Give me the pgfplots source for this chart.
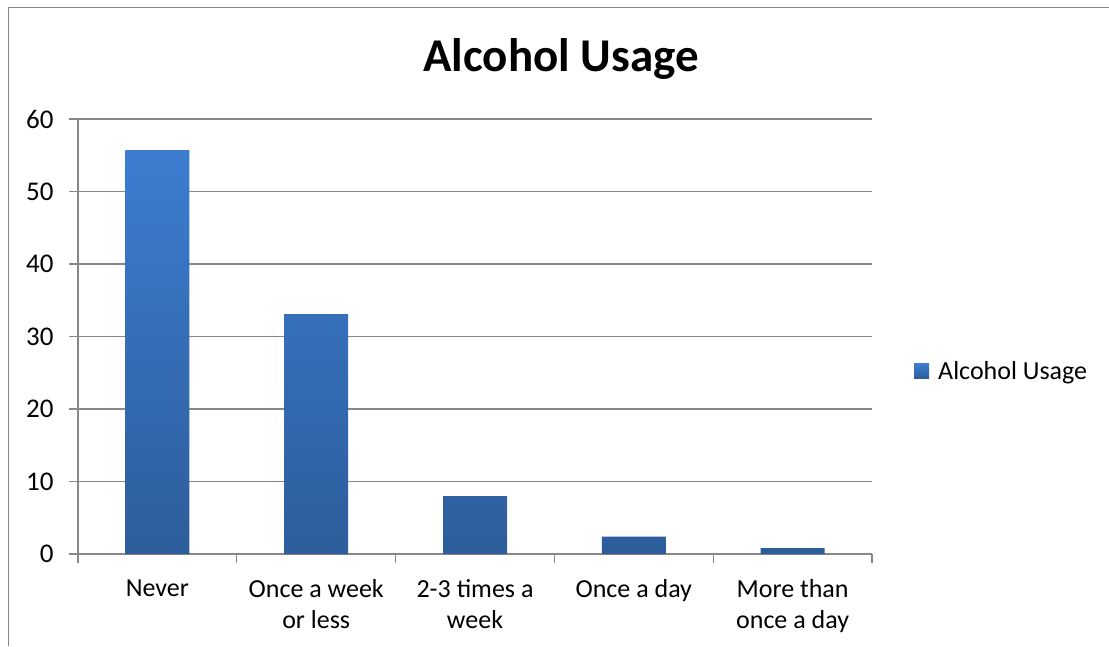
\documentclass[border=0pt]{standalone}
\usepackage{pgfplots}
\pgfplotsset{compat=1.18}
\usepackage{fontspec}
\setmainfont{Carlito}
\definecolor{bartop}{RGB}{60,125,208}
\definecolor{barbot}{RGB}{45,93,155}
\definecolor{gridgray}{RGB}{136,136,136}
\begin{document}
\begin{tikzpicture}[x=1pt,y=1pt]
\path[use as bounding box] (0,0) rectangle (1109,646);
\draw[gridgray, line width=1pt] (8,0) -- (8,638.5) -- (1109,638.5);
\node[font=\fontsize{47}{56}\selectfont\bfseries, anchor=base] at (561,574) {Alcohol Usage};
\begin{axis}[
  at={(78pt,92pt)}, anchor=south west,
  scale only axis, width=794pt, height=435pt,
  xmin=-0.5, xmax=4.5, ymin=0, ymax=60,
  axis lines*=left,
  axis line style={gridgray, line width=1.2pt},
  ytick={0,10,...,60},
  ymajorgrids, grid style={gridgray, line width=1.2pt},
  major tick length=9pt, tick align=outside,
  tick style={gridgray, line width=1.2pt},
  xtick={-0.5,0.5,...,4.5}, xticklabels={},
  extra x ticks={0,1,2,3,4},
  extra x tick labels={Never,Once a week\\or less,2-3 times a\\week,Once a day,More than\\once a day},
  extra x tick style={major tick length=0pt, grid=none,
     xticklabel style={align=center, font=\fontsize{26}{31}\selectfont, yshift=-22pt}},
  yticklabel style={font=\fontsize{27}{32}\selectfont, xshift=-12pt},
  /pgf/number format/assume math mode=true,
  ybar, bar width=64pt,
  legend style={draw=none, at={(1.0529,0.4207)}, anchor=west, inner xsep=0pt, inner ysep=0pt,
     column sep=7pt, font=\fontsize{26}{31}\selectfont},
  legend image code/.code={\fill[top color=bartop, bottom color=barbot] (0pt,-7.5pt) rectangle (15pt,7.5pt);},
]
\addplot[draw=none, top color=bartop, bottom color=barbot] coordinates {(0,55.7) (1,33.1) (2,8.0) (3,2.4) (4,0.8)};
\addlegendentry{Alcohol Usage}
\end{axis}
\end{tikzpicture}
\end{document}
